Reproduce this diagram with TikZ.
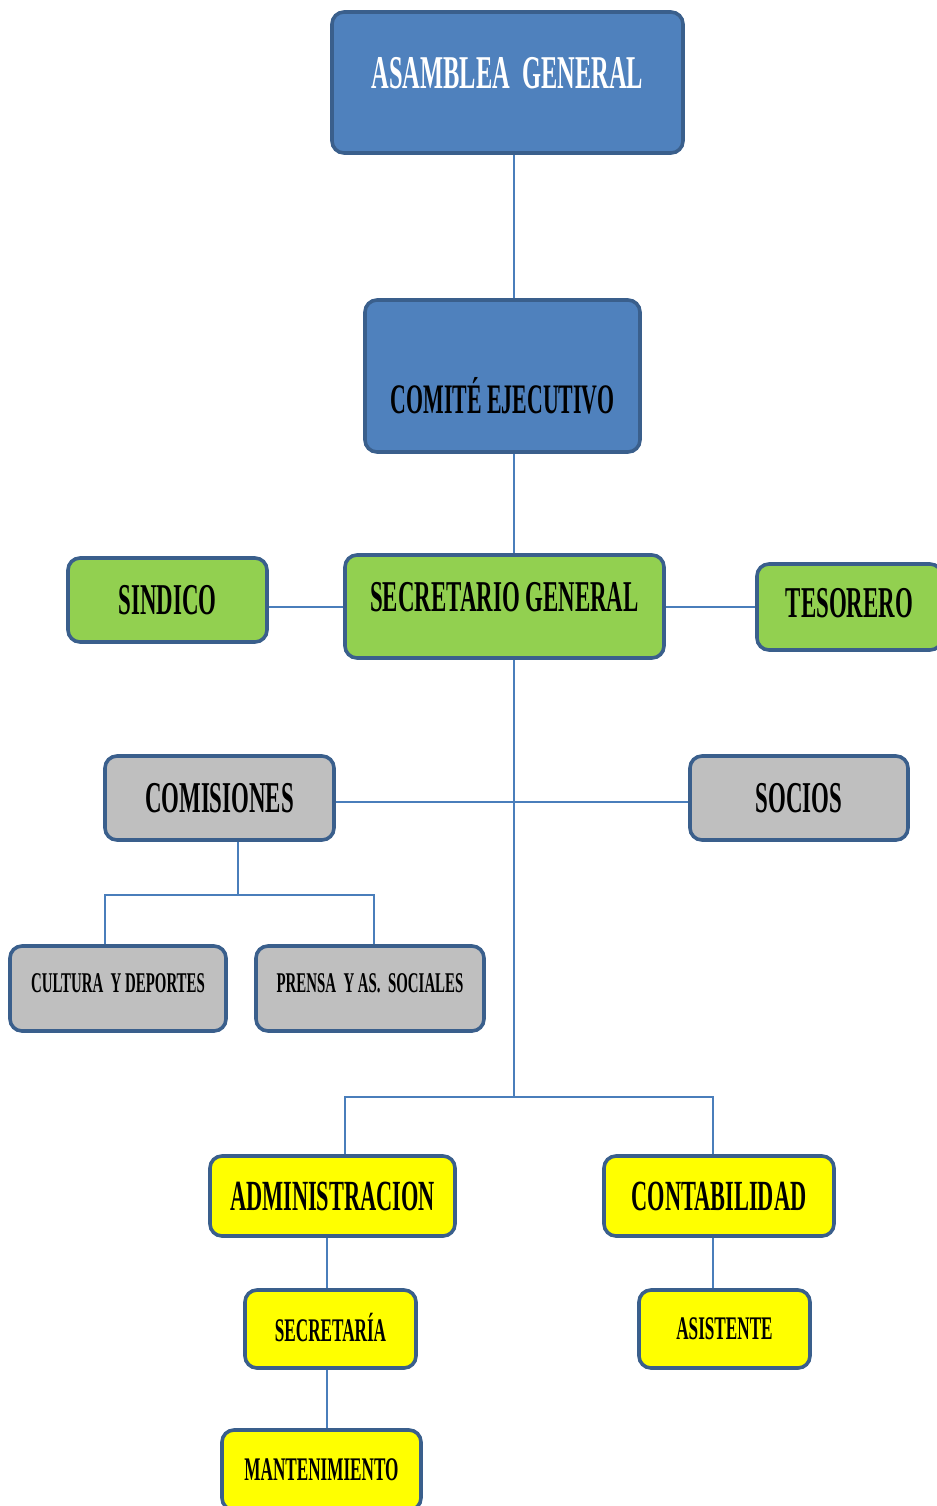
\documentclass[tikz,border=0pt]{standalone}
\usepackage{fontspec}
\usepackage{xcolor}
\usepackage{tikz}
\usetikzlibrary{positioning}

\newfontfamily\orgfont[FakeStretch=0.52]{Liberation Serif}
\definecolor{boxblue}{HTML}{4F81BD}
\definecolor{boxedge}{HTML}{3A5F8C}
\definecolor{boxgreen}{HTML}{92D050}
\definecolor{boxgray}{HTML}{BFBFBF}
\definecolor{boxyellow}{HTML}{FFFF00}
\definecolor{linkblue}{HTML}{4A7EBB}
\newcommand{\liftby}[2]{\raisebox{#1}[\height][\depth]{#2}}

\begin{document}
\begin{tikzpicture}[
    x=0.5pt, y=-0.5pt,
    orgbox/.style={rectangle, draw=boxedge, line width=1.8pt, rounded corners=6pt, text centered, inner sep=0pt, font=\orgfont\bfseries},
    topbox/.style={orgbox, fill=boxblue},
    midbox/.style={orgbox, fill=boxgreen, font=\orgfont\bfseries\fontsize{22}{24}\selectfont},
    graybox/.style={orgbox, fill=boxgray, font=\orgfont\bfseries\fontsize{22}{24}\selectfont},
    subbox/.style={orgbox, fill=boxgray, font=\orgfont\bfseries\fontsize{14.3}{16}\selectfont},
    yelbox/.style={orgbox, fill=boxyellow, font=\orgfont\bfseries\fontsize{21.5}{24}\selectfont},
    smallbox/.style={orgbox, fill=boxyellow, font=\orgfont\bfseries\fontsize{16.5}{18}\selectfont},
    link/.style={draw=linkblue, line width=1pt}
]
\useasboundingbox (0,0) rectangle (937,1506);
\clip (0,0) rectangle (937,1506);

% Top level
\node[topbox, text=white, font=\orgfont\bfseries\fontsize{23.5}{26}\selectfont, minimum width=175.5pt, minimum height=70.5pt] (ag) at (507.5,82.5) {\liftby{4.75pt}{ASAMBLEA\ \ GENERAL}};
\node[topbox, font=\orgfont\bfseries\fontsize{21}{24}\selectfont, minimum width=137.5pt, minimum height=76pt] (ce) at (502.5,376) {\liftby{-10pt}{COMITÉ EJECUTIVO}};

% Secretaria general
\node[midbox, minimum width=99.5pt, minimum height=42pt] (sind) at (167.5,600) {SINDICO};
\node[midbox, minimum width=159.5pt, minimum height=51.5pt] (sg) at (504.5,606.5) {\liftby{4.75pt}{SECRETARIO GENERAL}};
\node[midbox, minimum width=92.5pt, minimum height=43pt] (tes) at (849.5,607) {\liftby{2pt}{TESORERO}};

% Comisiones y socios
\node[graybox, minimum width=114.5pt, minimum height=42pt] (com) at (219.5,798) {COMISIONES};
\node[graybox, minimum width=109pt, minimum height=42pt] (soc) at (799,798) {SOCIOS};
\node[subbox, minimum width=108pt, minimum height=42.5pt] (cult) at (118,988.5) {\liftby{2.5pt}{CULTURA\ \ Y DEPORTES}};
\node[subbox, minimum width=114pt, minimum height=42.5pt] (pren) at (370,988.5) {\liftby{2.5pt}{PRENSA\ \ Y AS.\ \ SOCIALES}};

% Administracion y contabilidad
\node[yelbox, minimum width=122.5pt, minimum height=40pt] (adm) at (332.5,1196) {ADMINISTRACION};
\node[yelbox, minimum width=115pt, minimum height=40pt] (cont) at (719,1196) {CONTABILIDAD};
\node[smallbox, minimum width=85.5pt, minimum height=39pt] (secr) at (330.5,1329) {\liftby{1pt}{SECRETARÍA}};
\node[smallbox, minimum width=85.5pt, minimum height=39pt] (asis) at (724.5,1329) {ASISTENTE};
\node[smallbox, minimum width=99.5pt, minimum height=40pt] (mant) at (321.5,1470) {MANTENIMIENTO};

% Bus points
\coordinate (trunk) at (514,1097);
\coordinate (combus) at (238,895);
\coordinate (cbl) at (105,895);
\coordinate (cbr) at (374,895);
\coordinate (sbl) at (345,1097);
\coordinate (sbr) at (713,1097);
\coordinate (admx) at (327,1097);

% Lines
\draw[link] (ag.south -| trunk) -- (ce.north -| trunk);
\draw[link] (ce.south -| trunk) -- (sg.north -| trunk);
\draw[link] (sg.west -| sind.east) -- (sg.west);
\draw[link] (sg.east) -- (sg.east -| tes.west);
\draw[link] (sg.south -| trunk) -- (trunk);
\draw[link] (com.east |- 0,802) -- (soc.west |- 0,802);
\draw[link] (com.south -| combus) -- (combus);
\draw[link] (cult.north -| cbl) -- (cbl) -- (cbr) -- (pren.north -| cbr);
\draw[link] (adm.north -| sbl) -- (sbl) -- (sbr) -- (cont.north -| sbr);
\draw[link] (adm.south -| admx) -- (secr.north -| admx);
\draw[link] (secr.south -| admx) -- (mant.north -| admx);
\draw[link] (cont.south -| sbr) -- (asis.north -| sbr);

\end{tikzpicture}
\end{document}
